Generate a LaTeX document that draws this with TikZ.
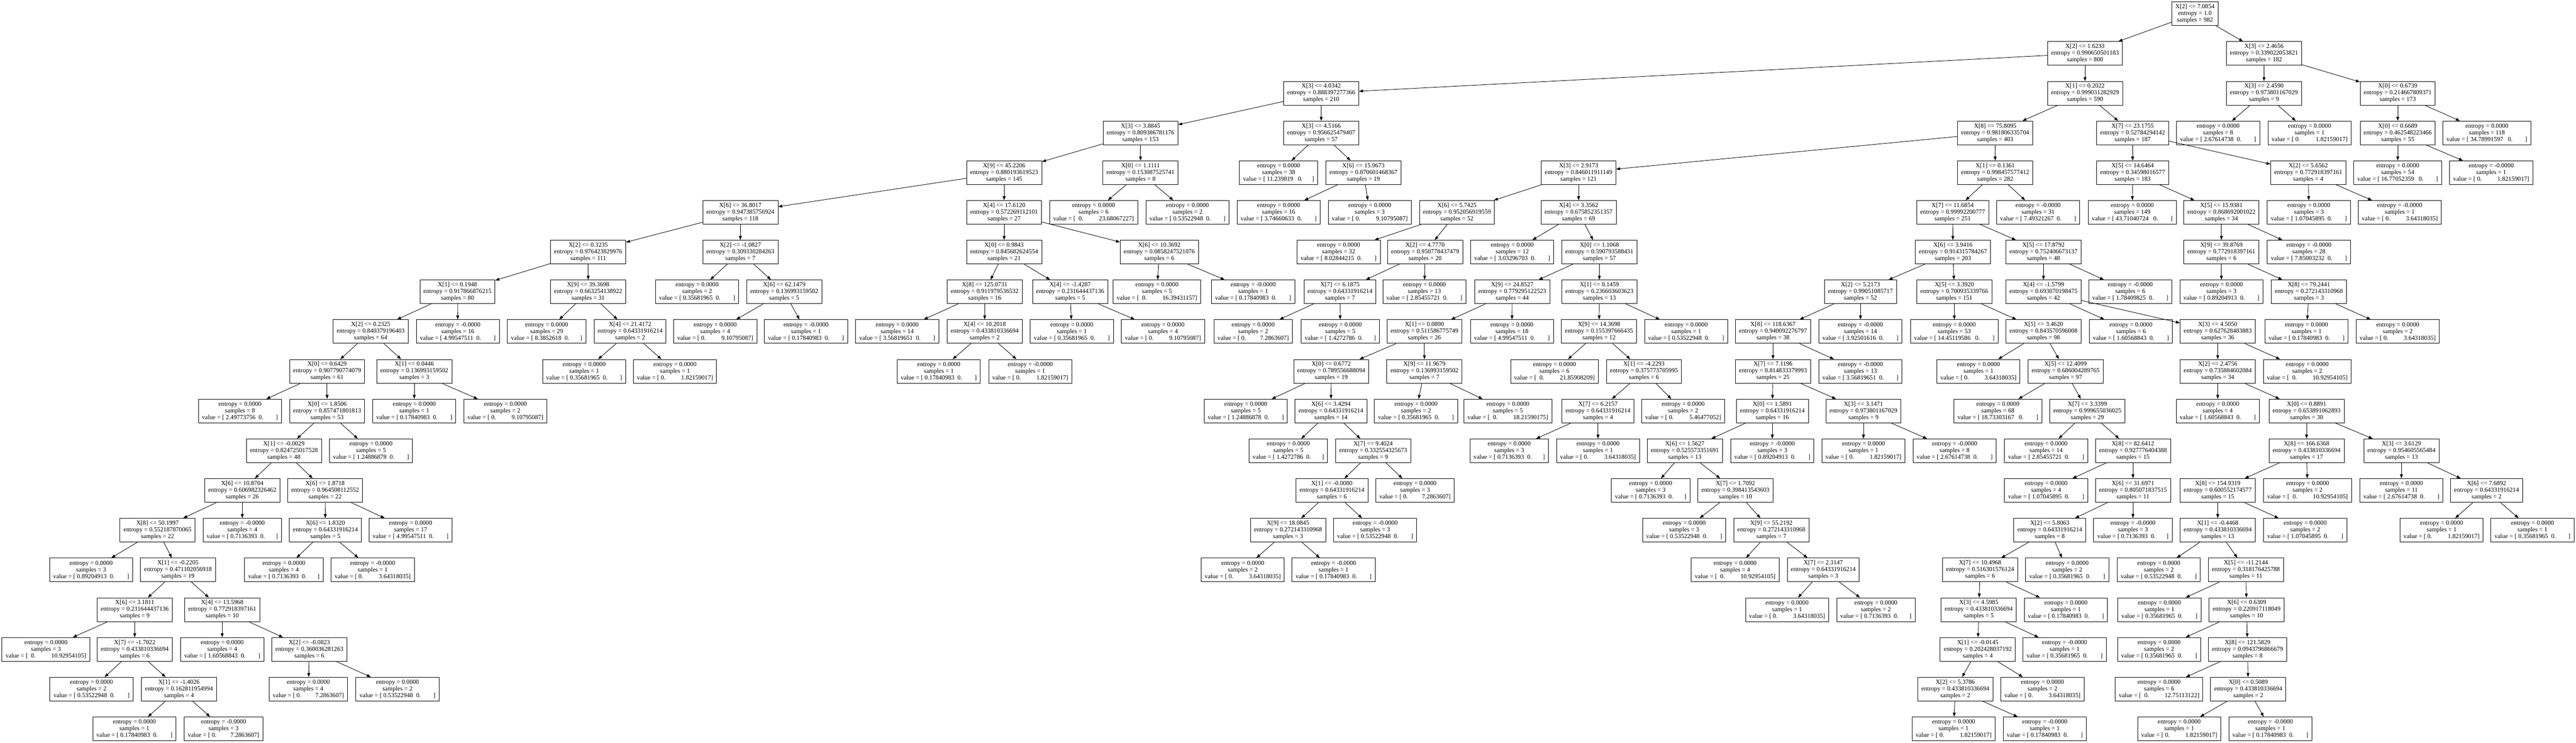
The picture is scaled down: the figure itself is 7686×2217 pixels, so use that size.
\documentclass[tikz,border=0pt]{standalone}
\usepackage{fontspec}
\setmainfont{Liberation Serif}
\usetikzlibrary{arrows.meta}
\newcommand\SP[1]{\kern#1\fontdimen2\font}
\newcommand\valr[1]{value = [\SP{1}#1\SP{2}0.\SP{8}]}
\newcommand\vall[1]{value = [\SP{1}0.\SP{10}#1]}
\newcommand\valR[1]{value = [\SP{1}#1\SP{3}0.\SP{8}]}
\newcommand\valL[1]{value = [\SP{2}0.\SP{10}#1]}
\newcommand\valrn[1]{value = [\SP{1}#1\SP{2}0.\SP{7}]}
\newcommand\valln[1]{value = [\SP{1}0.\SP{9}#1]}
\newcommand\splitn[6]{\node[tn] (#1) at (#2,{41+118.6*#3}) {#4\\entropy = #5\\samples = #6};}
\newcommand\leafn[6]{\node[tn] (#1) at (#2,{41+118.6*#3}) {entropy = #4\\samples = #5\\#6};}
\tikzset{
  tn/.style={draw=black, line width=1pt, rectangle, align=center, inner xsep=8pt, inner ysep=2pt,
    minimum height=53pt, font=\fontsize{14pt}{15pt}\selectfont, text=black},
  conn/.style={-{Triangle[length=9pt,width=6.5pt]}, line width=1pt, black}
}
\begin{document}
\begin{tikzpicture}[x=0.75pt,y=-0.75pt]
\useasboundingbox (0,0) rectangle (7686,2217);
\fill[white] (0,0) rectangle (7686,2217);
% row 0-1
\splitn{r}{6549}{0}{X[2] <= 7.0854}{1.0}{982}
\splitn{a}{6221}{1}{X[2] <= 1.6233}{0.990650501183}{800}
\splitn{b}{6755}{1}{X[3] <= 2.4656}{0.339022053821}{182}
% row 2
\splitn{c}{3942}{2}{X[3] <= 4.0342}{0.888397277366}{210}
\splitn{d}{6221}{2}{X[1] <= 0.2022}{0.999031282929}{590}
\splitn{e}{6755}{2}{X[3] <= 2.4590}{0.973801167029}{9}
\splitn{f}{7154}{2}{X[0] <= 0.6739}{0.214667809371}{173}
% row 3
\splitn{g}{3403}{3}{X[3] <= 3.8845}{0.809386781176}{153}
\splitn{h}{3942}{3}{X[3] <= 4.5166}{0.956625479407}{57}
\splitn{i}{5953}{3}{X[8] <= 75.8095}{0.981806335704}{403}
\splitn{j}{6363}{3}{X[7] <= 23.1755}{0.52784294142}{187}
\leafn{k}{6618}{3}{0.0000}{8}{\valr{2.67614738}}
\leafn{l}{6891}{3}{0.0000}{1}{\vall{1.82159017}}
\splitn{m}{7154}{3}{X[0] <= 0.6689}{0.462548223466}{55}
\leafn{n}{7420}{3}{0.0000}{118}{\valR{34.78991597}}
% row 4
\splitn{o}{2996}{4}{X[9] <= 45.2206}{0.880193619523}{145}
\splitn{p}{3403}{4}{X[0] <= 1.1111}{0.153087525741}{8}
\leafn{q}{3815}{4}{0.0000}{38}{value = [\SP{1}11.239819\SP{3}0.\SP{6}]}
\splitn{s}{4068}{4}{X[6] <= 15.9673}{0.870601468367}{19}
\splitn{t}{4710}{4}{X[3] <= 2.9173}{0.846011911149}{121}
\splitn{u}{5953}{4}{X[1] <= 0.1361}{0.998457577412}{282}
\splitn{v}{6363}{4}{X[5] <= 14.6464}{0.34598016577}{183}
\splitn{w}{6887}{4}{X[2] <= 5.6562}{0.772918397161}{4}
\leafn{x}{7154}{4}{0.0000}{54}{\valR{16.77052359}}
\leafn{y}{7433}{4}{-0.0000}{1}{\vall{1.82159017}}
% row 5
\splitn{z1}{2209}{5}{X[6] <= 36.8017}{0.947385756924}{118}
\splitn{z2}{2996}{5}{X[4] <= 17.6120}{0.572269112101}{27}
\leafn{z3}{3263}{5}{0.0000}{6}{\valL{23.68067227}}
\leafn{z4}{3543}{5}{0.0000}{2}{\valr{0.53522948}}
\leafn{z5}{3815}{5}{0.0000}{16}{\valr{3.74660633}}
\leafn{z6}{4087}{5}{0.0000}{3}{\vall{9.10795087}}
\splitn{z7}{4347}{5}{X[6] <= 5.7425}{0.952056919559}{52}
\splitn{z8}{4710}{5}{X[4] <= 3.3562}{0.675852351357}{69}
\splitn{z9}{5826}{5}{X[7] <= 11.6854}{0.99992200777}{251}
\leafn{z10}{6081}{5}{-0.0000}{31}{\valr{7.49321267}}
\leafn{z11}{6362}{5}{0.0000}{149}{\valR{43.71040724}}
\splitn{z12}{6628}{5}{X[5] <= 15.9381}{0.868692001022}{34}
\leafn{z13}{6889}{5}{0.0000}{3}{\valr{1.07045895}}
\leafn{z14}{7160}{5}{-0.0000}{1}{\vall{3.64318035}}
% row 6
\splitn{s61}{1755}{6}{X[2] <= 0.3235}{0.976423829976}{111}
\splitn{s62}{2209}{6}{X[2] <= -1.0827}{0.309330284263}{7}
\splitn{s63}{2996}{6}{X[0] <= 0.9843}{0.845682624554}{21}
\splitn{s64}{3459}{6}{X[6] <= 10.3692}{0.0858247521076}{6}
\leafn{s65}{3994}{6}{0.0000}{32}{\valr{8.02844215}}
\splitn{s66}{4252}{6}{X[2] <= 4.7770}{0.950778437479}{20}
\leafn{s67}{4512}{6}{0.0000}{12}{\valr{3.03296703}}
\splitn{s68}{4772}{6}{X[0] <= 1.1068}{0.590793588431}{57}
\splitn{s69}{5827}{6}{X[6] <= 3.9416}{0.914315784267}{203}
\splitn{s610}{6097}{6}{X[5] <= 17.8792}{0.752406673137}{48}
\splitn{s611}{6628}{6}{X[9] <= 39.8769}{0.772918397161}{6}
\leafn{s612}{6889}{6}{-0.0000}{28}{\valr{7.85003232}}
% row 7
\splitn{s71}{1365}{7}{X[1] <= 0.1948}{0.917866876215}{80}
\splitn{s72}{1755}{7}{X[9] <= 39.3698}{0.663254138922}{31}
\leafn{s73}{2080}{7}{0.0000}{2}{\valr{0.35681965}}
\splitn{s74}{2340}{7}{X[6] <= 62.1479}{0.136993159502}{5}
\splitn{s75}{2938}{7}{X[8] <= 125.0731}{0.911979536532}{16}
\splitn{s76}{3193}{7}{X[4] <= -1.4287}{0.231644437136}{5}
\leafn{s77}{3452}{7}{0.0000}{5}{\valL{16.39431157}}
\leafn{s78}{3739}{7}{-0.0000}{1}{\valr{0.17840983}}
\splitn{s79}{3998}{7}{X[7] <= 6.1875}{0.64331916214}{7}
\leafn{s710}{4250}{7}{0.0000}{13}{\valr{2.85455721}}
\splitn{s711}{4512}{7}{X[9] <= 24.8527}{0.779295122523}{44}
\splitn{s712}{4772}{7}{X[1] <= 0.1459}{0.236603603623}{13}
\splitn{s713}{5551}{7}{X[2] <= 5.2173}{0.99051085717}{52}
\splitn{s714}{5831}{7}{X[5] <= 3.3920}{0.700935339766}{151}
\splitn{s715}{6097}{7}{X[4] <= -1.5799}{0.693070198475}{42}
\leafn{s716}{6356}{7}{-0.0000}{6}{\valr{1.78409825}}
\leafn{s717}{6628}{7}{0.0000}{3}{\valr{0.89204913}}
\splitn{s718}{6889}{7}{X[8] <= 79.2441}{0.272143310968}{3}
% row 8
\splitn{e81}{1106}{8}{X[2] <= 0.2325}{0.840379196403}{64}
\leafn{e82}{1366}{8}{-0.0000}{16}{\valr{4.99547511}}
\leafn{e83}{1631}{8}{0.0000}{29}{\valrn{8.3852618}}
\splitn{e84}{1880}{8}{X[4] <= 21.4172}{0.64331916214}{2}
\leafn{e85}{2134}{8}{0.0000}{4}{\vall{9.10795087}}
\leafn{e86}{2405}{8}{-0.0000}{1}{\valr{0.17840983}}
\leafn{e87}{2677}{8}{0.0000}{14}{\valr{3.56819651}}
\splitn{e88}{2938}{8}{X[4] <= 10.2018}{0.433810336694}{2}
\leafn{e89}{3198}{8}{0.0000}{1}{\valr{0.35681965}}
\leafn{e810}{3470}{8}{0.0000}{4}{\vall{9.10795087}}
\leafn{e811}{3739}{8}{0.0000}{2}{\valln{7.2863607}}
\leafn{e812}{3999}{8}{0.0000}{5}{\valrn{1.4272786}}
\splitn{e813}{4250}{8}{X[1] <= 0.0890}{0.511586775749}{26}
\leafn{e814}{4511}{8}{0.0000}{18}{\valr{4.99547511}}
\splitn{e815}{4771}{8}{X[9] <= 14.3698}{0.155397666435}{12}
\leafn{e816}{5031}{8}{0.0000}{1}{\valr{0.53522948}}
\splitn{e817}{5290}{8}{X[8] <= 118.6367}{0.940092276797}{38}
\leafn{e818}{5551}{8}{-0.0000}{14}{\valr{3.92501616}}
\leafn{e819}{5831}{8}{0.0000}{53}{\valR{14.45119586}}
\splitn{e820}{6097}{8}{X[5] <= 3.4620}{0.843570596008}{98}
\leafn{e821}{6358}{8}{0.0000}{6}{\valr{1.60568843}}
\splitn{e822}{6617}{8}{X[3] <= 4.5050}{0.627628483883}{36}
\leafn{e823}{6882}{8}{0.0000}{1}{\valr{0.17840983}}
\leafn{e824}{7154}{8}{0.0000}{2}{\vall{3.64318035}}
% row 9
\splitn{n91}{976}{9}{X[0] <= 0.6429}{0.907790774079}{61}
\splitn{n92}{1236}{9}{X[1] <= 0.0446}{0.136993159502}{3}
\leafn{n93}{1743}{9}{0.0000}{1}{\valr{0.35681965}}
\leafn{n94}{2014}{9}{0.0000}{1}{\vall{1.82159017}}
\leafn{n95}{2801}{9}{0.0000}{1}{\valr{0.17840983}}
\leafn{n96}{3074}{9}{-0.0000}{1}{\vall{1.82159017}}
\splitn{n97}{3972}{9}{X[0] <= 0.6772}{0.789556688094}{19}
\splitn{n98}{4250}{9}{X[9] <= 11.9679}{0.136993159502}{7}
\leafn{n99}{4638}{9}{0.0000}{6}{\valL{21.85908209}}
\splitn{n910}{4905}{9}{X[1] <= -4.2293}{0.375773705995}{6}
\splitn{n911}{5290}{9}{X[7] <= 7.1196}{0.814833379993}{25}
\leafn{n912}{5551}{9}{-0.0000}{13}{\valr{3.56819651}}
\leafn{n913}{5903}{9}{0.0000}{1}{\vall{3.64318035}}
\splitn{n914}{6163}{9}{X[5] <= 12.4099}{0.686004289765}{97}
\splitn{n915}{6617}{9}{X[2] <= 2.4756}{0.735884602084}{34}
\leafn{n916}{6884}{9}{0.0000}{2}{\valL{10.92954105}}
% row 10
\leafn{t1}{716}{10}{0.0000}{8}{\valr{2.49773756}}
\splitn{t2}{976}{10}{X[0] <= 1.8506}{0.857471801813}{53}
\leafn{t3}{1236}{10}{0.0000}{1}{\valr{0.17840983}}
\leafn{t4}{1508}{10}{0.0000}{2}{\vall{9.10795087}}
\leafn{t5}{3717}{10}{0.0000}{5}{\valr{1.24886878}}
\splitn{t6}{3971}{10}{X[6] <= 3.4294}{0.64331916214}{14}
\leafn{t7}{4225}{10}{0.0000}{2}{\valr{0.35681965}}
\leafn{t8}{4499}{10}{0.0000}{5}{\valL{18.21590175}}
\splitn{t9}{4768}{10}{X[7] <= 6.2157}{0.64331916214}{4}
\leafn{t10}{5022}{10}{0.0000}{2}{\vall{5.46477052}}
\splitn{t11}{5288}{10}{X[0] <= 1.5891}{0.64331916214}{16}
\splitn{t12}{5560}{10}{X[3] <= 3.1471}{0.973801167029}{9}
\leafn{t13}{5961}{10}{0.0000}{68}{\valR{18.73303167}}
\splitn{t14}{6228}{10}{X[7] <= 3.3399}{0.999655036025}{29}
\leafn{t15}{6617}{10}{0.0000}{4}{\valr{1.60568843}}
\splitn{t16}{6882}{10}{X[0] <= 0.8891}{0.653891062893}{30}
% row 11
\splitn{l1}{847}{11}{X[1] <= -0.0029}{0.824725017528}{48}
\leafn{l2}{1107}{11}{0.0000}{5}{\valr{1.24886878}}
\leafn{l3}{3844}{11}{0.0000}{5}{\valrn{1.4272786}}
\splitn{l4}{4097}{11}{X[7] <= 9.4024}{0.332554325673}{9}
\leafn{l5}{4503}{11}{0.0000}{3}{\valrn{0.7136393}}
\leafn{l6}{4768}{11}{0.0000}{1}{\vall{3.64318035}}
\splitn{l7}{5027}{11}{X[6] <= 1.5627}{0.525573351691}{13}
\leafn{l8}{5288}{11}{-0.0000}{3}{\valr{0.89204913}}
\leafn{l9}{5560}{11}{0.0000}{1}{\vall{1.82159017}}
\leafn{l10}{5832}{11}{-0.0000}{8}{\valr{2.67614738}}
\leafn{l11}{6105}{11}{0.0000}{14}{\valr{2.85455721}}
\splitn{l12}{6364}{11}{X[8] <= 82.6412}{0.927776404388}{15}
\splitn{l13}{6882}{11}{X[8] <= 166.6368}{0.433810336694}{17}
\splitn{l14}{7165}{11}{X[3] <= 3.6129}{0.954605565484}{13}
% row 12
\splitn{w1}{723}{12}{X[6] <= 10.8704}{0.606982326462}{26}
\splitn{w2}{970}{12}{X[6] <= 1.8718}{0.964508112552}{22}
\splitn{w3}{3974}{12}{X[1] <= -0.0080}{0.64331916214}{6}
\leafn{w4}{4222}{12}{0.0000}{3}{\valln{7.2863607}}
\leafn{w5}{4925}{12}{0.0000}{3}{\valrn{0.7136393}}
\splitn{w6}{5178}{12}{X[7] <= 1.7092}{0.398413543603}{10}
\leafn{w7}{6105}{12}{0.0000}{4}{\valr{1.07045895}}
\splitn{w8}{6364}{12}{X[6] <= 31.6971}{0.805071837515}{11}
\splitn{w9}{6617}{12}{X[8] <= 154.9319}{0.600552174577}{15}
\leafn{w10}{6885}{12}{0.0000}{2}{\valL{10.92954105}}
\leafn{w11}{7165}{12}{0.0000}{11}{\valr{2.67614738}}
\splitn{w12}{7419}{12}{X[6] <= 7.6892}{0.64331916214}{2}
% row 13
\splitn{h1}{470}{13}{X[8] <= 50.1997}{0.552187870065}{22}
\leafn{h2}{723}{13}{-0.0000}{4}{\valrn{0.7136393}}
\splitn{h3}{971}{13}{X[6] <= 1.8320}{0.64331916214}{5}
\leafn{h4}{1225}{13}{0.0000}{17}{\valr{4.99547511}}
\splitn{h5}{3843}{13}{X[9] <= 18.0845}{0.272143310968}{3}
\leafn{h6}{4103}{13}{-0.0000}{3}{\valr{0.53522948}}
\leafn{h7}{5025}{13}{0.0000}{3}{\valr{0.53522948}}
\splitn{h8}{5285}{13}{X[9] <= 55.2192}{0.272143310968}{7}
\splitn{h9}{6116}{13}{X[2] <= 5.8063}{0.64331916214}{8}
\leafn{h10}{6364}{13}{-0.0000}{3}{\valrn{0.7136393}}
\splitn{h11}{6617}{13}{X[1] <= -0.4468}{0.433810336694}{13}
\leafn{h12}{6878}{13}{0.0000}{2}{\valr{1.07045895}}
\leafn{h13}{7285}{13}{0.0000}{1}{\vall{1.82159017}}
\leafn{h14}{7556}{13}{0.0000}{1}{\valr{0.35681965}}
% row 14
\leafn{f1}{272}{14}{0.0000}{3}{\valr{0.89204913}}
\splitn{f2}{531}{14}{X[1] <= -0.2205}{0.471102056918}{19}
\leafn{f3}{847}{14}{0.0000}{4}{\valrn{0.7136393}}
\leafn{f4}{1112}{14}{-0.0000}{1}{\vall{3.64318035}}
\leafn{f5}{3708}{14}{0.0000}{2}{\vall{3.64318035}}
\leafn{f6}{3979}{14}{-0.0000}{1}{\valr{0.17840983}}
\leafn{f7}{5177}{14}{0.0000}{4}{\valL{10.92954105}}
\splitn{f8}{5440}{14}{X[7] <= 2.3147}{0.64331916214}{3}
\splitn{f9}{5908}{14}{X[7] <= 10.4968}{0.516301576124}{6}
\leafn{f10}{6168}{14}{0.0000}{2}{\valr{0.35681965}}
\leafn{f11}{6441}{14}{0.0000}{2}{\valr{0.53522948}}
\splitn{f12}{6701}{14}{X[5] <= -11.2144}{0.318176425788}{11}
% row 15
\splitn{v1}{402}{15}{X[6] <= 3.1811}{0.231644437136}{9}
\splitn{v2}{663}{15}{X[4] <= 13.5968}{0.772918397161}{10}
\leafn{v3}{5332}{15}{0.0000}{1}{\vall{3.64318035}}
\leafn{v4}{5597}{15}{0.0000}{2}{\valrn{0.7136393}}
\splitn{v5}{5904}{15}{X[3] <= 4.5985}{0.433810336694}{5}
\leafn{v6}{6164}{15}{0.0000}{1}{\valr{0.17840983}}
\leafn{v7}{6443}{15}{0.0000}{1}{\valr{0.35681965}}
\splitn{v8}{6703}{15}{X[6] <= 0.6309}{0.220917118049}{10}
% row 16
\leafn{x1}{137}{16}{0.0000}{3}{\valL{10.92954105}}
\splitn{x2}{402}{16}{X[7] <= -1.7022}{0.433810336694}{6}
\leafn{x3}{663}{16}{0.0000}{4}{\valr{1.60568843}}
\splitn{x4}{923}{16}{X[2] <= -0.0823}{0.360036281263}{6}
\splitn{x5}{5901}{16}{X[1] <= -0.0145}{0.202428037192}{4}
\leafn{x6}{6160}{16}{-0.0000}{1}{\valr{0.35681965}}
\leafn{x7}{6442}{16}{0.0000}{2}{\valr{0.35681965}}
\splitn{x8}{6706}{16}{X[8] <= 121.5829}{0.0943796866679}{8}
% row 17
\leafn{y1}{273}{17}{0.0000}{2}{\valr{0.53522948}}
\splitn{y2}{534}{17}{X[1] <= -1.4026}{0.162811954994}{4}
\leafn{y3}{920}{17}{0.0000}{4}{\valln{7.2863607}}
\leafn{y4}{1186}{17}{0.0000}{2}{\valr{0.53522948}}
\splitn{y5}{5834}{17}{X[2] <= 5.3786}{0.433810336694}{2}
\leafn{y6}{6094}{17}{0.0000}{2}{\vall{3.64318035}}
\leafn{y7}{6442}{17}{0.0000}{6}{\valL{12.75113122}}
\splitn{y8}{6708}{17}{X[0] <= 0.5089}{0.433810336694}{2}
% row 18
\leafn{q1}{401}{18}{0.0000}{1}{\valr{0.17840983}}
\leafn{q2}{667}{18}{-0.0000}{3}{\valln{7.2863607}}
\leafn{q3}{5829}{18}{0.0000}{1}{\vall{1.82159017}}
\leafn{q4}{6101}{18}{-0.0000}{1}{\valr{0.17840983}}
\leafn{q5}{6502}{18}{0.0000}{1}{\vall{1.82159017}}
\leafn{q6}{6774}{18}{-0.0000}{1}{\valr{0.17840983}}
% edges
\foreach \pa/\ch in {r/a,r/b,a/c,a/d,b/e,b/f,
 c/g,c/h,d/i,d/j,e/k,e/l,f/m,f/n,
 g/o,g/p,h/q,h/s,i/t,i/u,j/v,j/w,m/x,m/y,
 o/z1,o/z2,p/z3,p/z4,s/z5,s/z6,t/z7,t/z8,u/z9,u/z10,v/z11,v/z12,w/z13,w/z14,
 z1/s61,z1/s62,z2/s63,z2/s64,z7/s65,z7/s66,z8/s67,z8/s68,z9/s69,z9/s610,z12/s611,z12/s612,
 s61/s71,s61/s72,s62/s73,s62/s74,s63/s75,s63/s76,s64/s77,s64/s78,s66/s79,s66/s710,s68/s711,s68/s712,s69/s713,s69/s714,s610/s715,s610/s716,s611/s717,s611/s718,
 s71/e81,s71/e82,s72/e83,s72/e84,s74/e85,s74/e86,s75/e87,s75/e88,s76/e89,s76/e810,s79/e811,s79/e812,s711/e813,s711/e814,s712/e815,s712/e816,s713/e817,s713/e818,s714/e819,s714/e820,s715/e821,s715/e822,s718/e823,s718/e824,
 e81/n91,e81/n92,e84/n93,e84/n94,e88/n95,e88/n96,e813/n97,e813/n98,e815/n99,e815/n910,e817/n911,e817/n912,e820/n913,e820/n914,e822/n915,e822/n916,
 n91/t1,n91/t2,n92/t3,n92/t4,n97/t5,n97/t6,n98/t7,n98/t8,n910/t9,n910/t10,n911/t11,n911/t12,n914/t13,n914/t14,n915/t15,n915/t16,
 t2/l1,t2/l2,t6/l3,t6/l4,t9/l5,t9/l6,t11/l7,t11/l8,t12/l9,t12/l10,t14/l11,t14/l12,t16/l13,t16/l14,
 l1/w1,l1/w2,l4/w3,l4/w4,l7/w5,l7/w6,l12/w7,l12/w8,l13/w9,l13/w10,l14/w11,l14/w12,
 w1/h1,w1/h2,w2/h3,w2/h4,w3/h5,w3/h6,w6/h7,w6/h8,w8/h9,w8/h10,w9/h11,w9/h12,w12/h13,w12/h14,
 h1/f1,h1/f2,h3/f3,h3/f4,h5/f5,h5/f6,h8/f7,h8/f8,h9/f9,h9/f10,h11/f11,h11/f12,
 f2/v1,f2/v2,f8/v3,f8/v4,f9/v5,f9/v6,f12/v7,f12/v8,
 v1/x1,v1/x2,v2/x3,v2/x4,v5/x5,v5/x6,v8/x7,v8/x8,
 x2/y1,x2/y2,x4/y3,x4/y4,x5/y5,x5/y6,x8/y7,x8/y8,
 y2/q1,y2/q2,y5/q3,y5/q4,y8/q5,y8/q6}
 \draw[conn] (\pa) -- (\ch);
\end{tikzpicture}
\end{document}
